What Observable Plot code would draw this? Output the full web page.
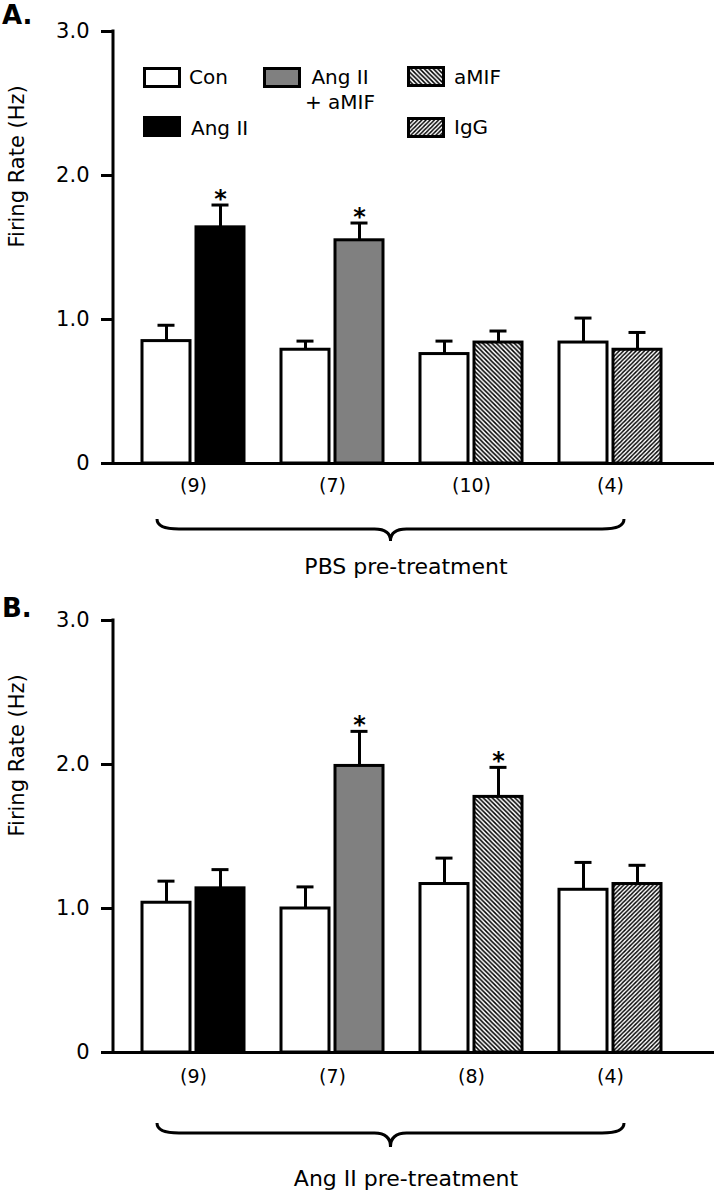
<!DOCTYPE html>
<html>
<head>
<meta charset="utf-8">
<script src="https://cdn.jsdelivr.net/npm/d3@7"></script>
<script src="https://cdn.jsdelivr.net/npm/@observablehq/plot@0.6"></script>
<style>
  body { margin: 0; background: #fff; }
  #wrap { position: relative; width: 714px; height: 1200px; overflow: hidden; }
  #wrap > svg { display: block; }
  #overlay { position: absolute; left: 0; top: 0; pointer-events: none; }
</style>
</head>
<body>
<svg width="0" height="0" style="position:absolute">
  <defs>
    <pattern id="hatch-amif" patternUnits="userSpaceOnUse" width="4.5" height="4.5">
      <rect width="4.5" height="4.5" fill="white"/>
      <path d="M-1,-1 L5.5,5.5 M-1,3.5 L1,5.5 M3.5,-1 L5.5,1" stroke="black" stroke-width="1.5"/>
    </pattern>
    <pattern id="hatch-igg" patternUnits="userSpaceOnUse" width="4.2" height="4.2">
      <rect width="4.2" height="4.2" fill="white"/>
      <path d="M-1,5.2 L5.2,-1 M-1,1 L1,-1 M3.2,5.2 L5.2,3.2" stroke="black" stroke-width="1.4"/>
    </pattern>
  </defs>
</svg>
<div id="wrap"></div>
<script>
// ---------- data ----------
const groups = ["G1", "G2", "G3", "G4"];
const treatments = ["Ang II", "Ang II + aMIF", "aMIF", "IgG"];
const legendLabels = ["Con", "Ang II", "Ang II\n+ aMIF", "aMIF", "IgG"];
const yTicks = [0, 1, 2, 3];

// Panel A: PBS pre-treatment
const nA = ["(9)", "(7)", "(10)", "(4)"];
const conMeanA = [0.85, 0.79, 0.76, 0.84];
const conSemA  = [0.11, 0.06, 0.09, 0.17];
const trtMeanA = [1.64, 1.55, 0.84, 0.79];
const trtSemA  = [0.155, 0.12, 0.08, 0.12];
const sigA     = [true, true, false, false];

// Panel B: Ang II pre-treatment
const nB = ["(9)", "(7)", "(8)", "(4)"];
const conMeanB = [1.04, 1.00, 1.17, 1.13];
const conSemB  = [0.15, 0.15, 0.18, 0.19];
const trtMeanB = [1.14, 1.99, 1.775, 1.17];
const trtSemB  = [0.13, 0.24, 0.205, 0.13];
const sigB     = [false, true, true, false];

// ---------- styles ----------
const fillOf = {
  "Con": "white",
  "Ang II": "black",
  "Ang II + aMIF": "#808080",
  "aMIF": "url(#hatch-amif)",
  "IgG": "url(#hatch-igg)"
};
const FONT = "DejaVu Sans";

function rowsFor(conMean, conSem, trtMean, trtSem, sig) {
  return groups.flatMap((g, i) => [
    {group: g, cond: "Con", mean: conMean[i], sem: conSem[i], sig: false},
    {group: g, cond: treatments[i], mean: trtMean[i], sem: trtSem[i], sig: sig[i]}
  ]);
}

function panel(cfg) {
  const rows = rowsFor(cfg.conMean, cfg.conSem, cfg.trtMean, cfg.trtSem, cfg.sig);
  const con = rows.filter(d => d.cond === "Con");
  const trt = rows.filter(d => d.cond !== "Con");
  const top = d => d.mean + d.sem;
  const lineW = 3;
  const plot = Plot.plot({
    width: 714,
    height: cfg.height,
    marginTop: 31,
    marginBottom: cfg.height - 463,
    marginLeft: 113,
    marginRight: 0,
    x: {domain: groups, paddingInner: 0.267, paddingOuter: 0.292, align: 0.356, axis: null},
    y: {domain: [0, 3], axis: null},
    color: {type: "identity"},
    style: {fontFamily: FONT, fontSize: "20px", color: "black", background: "white", overflow: "visible"},
    marks: [
      Plot.barY(con, {x: "group", y: "mean", fill: d => fillOf[d.cond], stroke: "black", strokeWidth: lineW, insetRight: 54}),
      Plot.barY(trt, {x: "group", y: "mean", fill: d => fillOf[d.cond], stroke: "black", strokeWidth: lineW, insetLeft: 54}),
      Plot.ruleX(con, {x: "group", y1: "mean", y2: top, dx: -27, strokeWidth: lineW}),
      Plot.ruleX(trt, {x: "group", y1: "mean", y2: top, dx: 27, strokeWidth: lineW}),
      Plot.tickY(con, {x: "group", y: top, insetLeft: 15.5, insetRight: 69.5, strokeWidth: lineW}),
      Plot.tickY(trt, {x: "group", y: top, insetLeft: 69.5, insetRight: 15.5, strokeWidth: lineW}),
      Plot.text(trt.filter(d => d.sig), {x: "group", y: top, text: () => "*", dx: 27, dy: -6, fontSize: 24, fontWeight: "bold"}),
      Plot.ruleY([0], {strokeWidth: lineW}),
      Plot.axisY({ticks: yTicks, tickFormat: d => d === 0 ? "0" : d.toFixed(1), tickSize: 12, tickPadding: 12,
                  strokeWidth: lineW, fontSize: 21, label: null}),
      Plot.text(["Firing Rate (Hz)"], {text: d => d, frameAnchor: "left", rotate: -90, dx: -96, fontSize: 21}),
      Plot.text(groups, {x: d => d, text: (d, i) => cfg.n[i], frameAnchor: "bottom", dy: cfg.nDy, fontSize: 19}),
      Plot.text([cfg.label], {text: d => d, frameAnchor: "bottom", dy: cfg.labelDy, dx: -8, fontSize: 22})
    ]
  });

  const svg = d3.select(plot);
  // y-axis line, positioned from the y scale
  const sy = plot.scale("y");
  svg.append("line")
    .attr("x1", 113).attr("x2", 113)
    .attr("y1", sy.apply(3) - 1.5).attr("y2", sy.apply(0) + 1.5)
    .attr("stroke", "black").attr("stroke-width", 3);

  // curly brace under the groups, positioned from the x scale
  const sx = plot.scale("x");
  const bw = sx.bandwidth;
  const xa = sx.apply(groups[0]) + 15;
  const xb = sx.apply(groups[groups.length - 1]) + bw - 37;
  const xm = (xa + xb) / 2;
  const base = sy.apply(0);
  const yt = base + cfg.braceDy, ym = yt + 10, yb = yt + cfg.braceH;
  svg.append("path")
    .attr("fill", "none").attr("stroke", "black").attr("stroke-width", 3)
    .attr("d", `M${xa},${yt} Q${xa},${ym} ${xa + 22},${ym} L${xm - 16},${ym} Q${xm},${ym} ${xm},${yb} ` +
               `Q${xm},${ym} ${xm + 16},${ym} L${xb - 22},${ym} Q${xb},${ym} ${xb},${yt}`);
  return plot;
}

const wrap = document.getElementById("wrap");
wrap.appendChild(panel({
  height: 589, n: nA, label: "PBS pre-treatment",
  conMean: conMeanA, conSem: conSemA, trtMean: trtMeanA, trtSem: trtSemA, sig: sigA,
  nDy: 28, braceDy: 56, braceH: 22, labelDy: 110
}));
wrap.appendChild(panel({
  height: 611, n: nB, label: "Ang II pre-treatment",
  conMean: conMeanB, conSem: conSemB, trtMean: trtMeanB, trtSem: trtSemB, sig: sigB,
  nDy: 30, braceDy: 71, braceH: 24, labelDy: 133
}));

// ---------- overlay: panel letters + legend ----------
const ov = d3.select(wrap).append("svg").attr("id", "overlay")
  .attr("width", 714).attr("height", 1200)
  .style("font-family", FONT);

ov.append("text").attr("x", 2).attr("y", 24).attr("font-size", 26).attr("font-weight", "bold").text("A.");
ov.append("text").attr("x", 2).attr("y", 617).attr("font-size", 26).attr("font-weight", "bold").text("B.");

const legendKeys = ["Con", ...treatments];
const legendPos = [
  {rx: 144.5, ry: 68.5, tx: 189, ty: 84, anchor: "start"},
  {rx: 144.5, ry: 117.5, tx: 191, ty: 135, anchor: "start"},
  {rx: 264.5, ry: 68.5, tx: 340, ty: 84, anchor: "middle"},
  {rx: 408.5, ry: 67.5, tx: 454, ty: 84, anchor: "start"},
  {rx: 408.5, ry: 118.5, tx: 454, ty: 134, anchor: "start"}
];
legendKeys.forEach((k, i) => {
  const p = legendPos[i];
  ov.append("rect").attr("x", p.rx).attr("y", p.ry).attr("width", 35).attr("height", 18)
    .attr("fill", fillOf[k]).attr("stroke", "black").attr("stroke-width", 3);
  const t = ov.append("text").attr("x", p.tx).attr("y", p.ty).attr("font-size", 20).attr("text-anchor", p.anchor);
  legendLabels[i].split("\n").forEach((line, j) => {
    t.append("tspan").attr("x", p.tx).attr("dy", j === 0 ? 0 : 25).text(line);
  });
});
</script>
</body>
</html>
